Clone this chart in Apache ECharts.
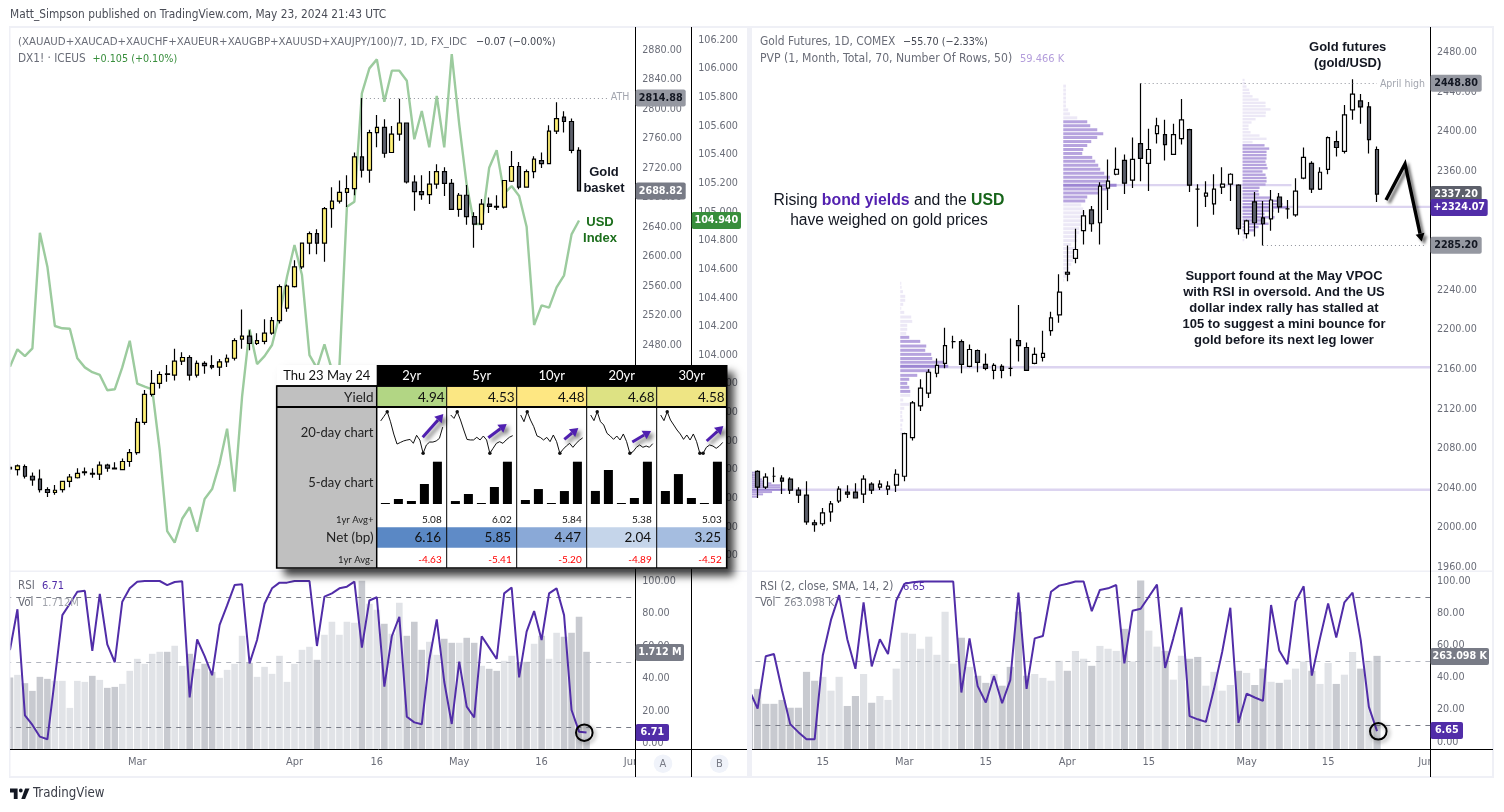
<!DOCTYPE html>
<html><head><meta charset="utf-8">
<style>html,body{margin:0;padding:0;background:#fff}#c{width:1504px;height:812px}</style>
<script src="https://cdn.jsdelivr.net/npm/echarts@6/dist/echarts.min.js"></script>
</head><body><div id="c"></div>
<script>
// ---------- categories ----------
const leftDates=['Feb 7','Feb 8','Feb 9','Feb 12','Feb 13','Feb 14','Feb 15','Feb 16','Feb 19','Feb 20','Feb 21','Feb 22','Feb 23','Feb 26','Feb 27','Feb 28','Feb 29','Mar 1','Mar 4','Mar 5','Mar 6','Mar 7','Mar 8','Mar 11','Mar 12','Mar 13','Mar 14','Mar 15','Mar 18','Mar 19','Mar 20','Mar 21','Mar 22','Mar 25','Mar 26','Mar 27','Mar 28','Mar 29','Apr 1','Apr 2','Apr 3','Apr 4','Apr 5','Apr 8','Apr 9','Apr 10','Apr 11','Apr 12','Apr 15','Apr 16','Apr 17','Apr 18','Apr 19','Apr 22','Apr 23','Apr 24','Apr 25','Apr 26','Apr 29','Apr 30','May 1','May 2','May 3','May 6','May 7','May 8','May 9','May 10','May 13','May 14','May 15','May 16','May 17','May 20','May 21','May 22','May 23','May 24','May 27','May 28','May 29','May 30','May 31','Jun 3'];
const rightDates=['Feb 2','Feb 5','Feb 6','Feb 7','Feb 8','Feb 9','Feb 12','Feb 13','Feb 14','Feb 15','Feb 16','Feb 20','Feb 21','Feb 22','Feb 23','Feb 26','Feb 27','Feb 28','Feb 29','Mar 1','Mar 4','Mar 5','Mar 6','Mar 7','Mar 8','Mar 11','Mar 12','Mar 13','Mar 14','Mar 15','Mar 18','Mar 19','Mar 20','Mar 21','Mar 22','Mar 25','Mar 26','Mar 27','Mar 28','Apr 1','Apr 2','Apr 3','Apr 4','Apr 5','Apr 8','Apr 9','Apr 10','Apr 11','Apr 12','Apr 15','Apr 16','Apr 17','Apr 18','Apr 19','Apr 22','Apr 23','Apr 24','Apr 25','Apr 26','Apr 29','Apr 30','May 1','May 2','May 3','May 6','May 7','May 8','May 9','May 10','May 13','May 14','May 15','May 16','May 17','May 20','May 21','May 22','May 23','May 24','May 28','May 29','May 30','May 31','Jun 3'];
const leftTimeLabels={'Mar 1':'Mar','Apr 1':'Apr','Apr 16':'16','May 1':'May','May 16':'16','Jun 3':'Jun'};
const rightTimeLabels={'Feb 15':'15','Mar 1':'Mar','Mar 15':'15','Apr 1':'Apr','Apr 15':'15','May 1':'May','May 15':'15','Jun 3':'Jun'};

// ---------- tick labels ----------
const basketTicks=[2200,2240,2280,2320,2360,2400,2440,2480,2520,2560,2600,2640,2680,2720,2760,2800,2840,2880];
const dxyTicks=[102.6,102.8,103,103.2,103.4,103.6,103.8,104,104.2,104.4,104.6,104.8,105,105.2,105.4,105.6,105.8,106,106.2];
const rsiTicks=[0,20,40,60,80,100];
const futuresTicks=[1960,2000,2040,2080,2120,2160,2200,2240,2280,2320,2360,2400,2440,2480];

// ---------- gold basket: [open, close, low, high] ----------
const basketOHLC=[[2314,2312,2305,2319],[2311,2316,2303,2318],[2315,2302,2299,2318],[2302,2297,2289,2307],[2298,2284,2280,2311],[2284,2280,2274,2287],[2280,2283,2277,2290],[2284,2295,2280,2296],[2295,2301,2287,2305],[2300,2306,2299,2313],[2307,2308,2303,2314],[2306,2305,2300,2313],[2305,2317,2297,2322],[2317,2313,2308,2319],[2312,2313,2311,2321],[2311,2322,2310,2326],[2322,2334,2315,2339],[2334,2375,2331,2381],[2375,2413,2372,2419],[2413,2428,2410,2446],[2428,2440,2421,2444],[2440,2441,2430,2453],[2439,2458,2432,2475],[2458,2463,2453,2470],[2463,2439,2432,2466],[2439,2455,2436,2459],[2455,2452,2441,2458],[2452,2450,2447,2466],[2450,2457,2438,2461],[2457,2462,2450,2467],[2462,2486,2459,2489],[2488,2492,2475,2528],[2492,2482,2473,2500],[2482,2486,2480,2496],[2485,2496,2481,2515],[2496,2513,2494,2518],[2513,2559,2509,2562],[2530,2560,2525,2562],[2559,2586,2558,2595],[2586,2618,2583,2619],[2618,2631,2603,2634],[2631,2618,2603,2637],[2618,2665,2593,2667],[2665,2675,2639,2694],[2675,2687,2672,2703],[2687,2692,2667,2710],[2692,2735,2683,2741],[2735,2717,2707,2815],[2717,2768,2700,2772],[2768,2775,2748,2792],[2775,2740,2734,2786],[2741,2766,2741,2777],[2766,2781,2757,2814],[2781,2701,2699,2781],[2701,2688,2662,2710],[2688,2684,2677,2710],[2684,2698,2671,2716],[2698,2715,2692,2725],[2715,2699,2682,2721],[2699,2664,2663,2705],[2664,2683,2654,2686],[2683,2654,2643,2697],[2654,2644,2612,2660],[2644,2671,2636,2678],[2671,2668,2659,2680],[2668,2667,2663,2683],[2667,2703,2665,2703],[2702,2722,2701,2743],[2722,2694,2691,2728],[2694,2715,2694,2718],[2715,2732,2706,2736],[2730,2726,2720,2741],[2726,2770,2726,2778],[2770,2787,2766,2809],[2789,2783,2768,2797],[2783,2744,2740,2787],[2744,2689,2689,2748]];
const dxyClose=[103.919,104.04,103.993,104.047,104.854,104.617,104.203,104.187,104.184,103.977,103.914,103.88,103.861,103.754,103.761,103.914,104.1,103.8,103.779,103.761,103.337,102.771,102.69,102.857,102.937,102.766,102.995,103.064,103.244,103.486,103.046,103.709,104.18,103.937,103.993,104.07,104.28,104.547,104.768,104.559,104,103.909,104.075,103.896,103.919,105.036,105.071,105.828,106.002,106.065,105.769,105.986,105.986,105.916,105.507,105.704,105.451,105.809,105.451,106.102,105.611,105.187,104.915,104.915,105.308,105.43,105.129,105.18,105.111,104.896,104.21,104.347,104.331,104.473,104.557,104.843,104.94];
const basketRSI=[57.5,82.6,17.3,11.4,4.2,2.6,40,79,86,93.4,94,57,92,61,50,87.3,95.5,99.6,100,100,100,97.5,99.4,99.8,28.4,64,53.8,42,73,85,97.5,98,49.3,63.7,86,95.5,99,99,100,100,100,60,90.4,92.4,95.5,96.5,99.6,59,88,90,35,66,78,16.5,13,11.8,51.4,76.4,38,12,50.4,22.7,16,66,59,52,92.4,96,40.7,68.8,81.5,63.7,92.4,95.5,79,20.6,7.3,6.71];
const basketVol=[1261,1307,1161,1026,1272,1237,1202,1202,727,1202,1184,1290,1219,1079,1096,1149,1378,1589,1501,1677,1712,1712,1818,1466,1677,1413,1501,1360,1255,1395,1501,1993,1519,1272,1448,1325,1642,1184,1501,1747,1800,1571,2011,2240,2011,2240,2222,2961,2556,2451,2204,2029,2574,1993,2240,1747,1888,1659,1941,1870,1870,1958,1870,1466,1413,1378,1554,1642,1519,1536,1853,1993,1589,2046,1976,2046,2328,1712];
const basketVolUp=[0,1,0,0,0,0,1,1,1,1,1,0,1,0,0,1,1,1,1,1,1,0,1,1,0,1,0,0,1,1,1,1,0,1,1,1,1,1,1,1,1,0,1,1,1,1,1,0,1,1,0,1,1,0,0,0,1,1,0,0,1,0,0,1,0,0,1,1,0,0,1,0,1,1,0,0,0,0];

// ---------- gold futures ----------
const futuresOHLC=[[2050,2056,2045,2060],[2057,2041,2030,2058],[2041,2051,2039,2055],[2052,2052,2046,2061],[2050,2047,2034,2053],[2049,2038,2034,2051],[2038,2033,2025,2041],[2033,2006,2003,2047],[2005,2003,1996,2008],[2004,2015,2002,2020],[2016,2024,2006,2027],[2027,2039,2025,2042],[2036,2034,2030,2043],[2036,2030,2030,2045],[2034,2049,2025,2053],[2044,2038,2034,2046],[2041,2044,2038,2048],[2039,2042,2033,2047],[2043,2054,2036,2059],[2052,2095,2047,2096],[2091,2126,2088,2128],[2123,2141,2118,2150],[2136,2157,2131,2160],[2156,2164,2152,2171],[2166,2184,2161,2202],[2188,2188,2181,2194],[2188,2165,2156,2190],[2163,2180,2162,2185],[2179,2167,2157,2180],[2165,2161,2159,2176],[2159,2164,2150,2166],[2163,2159,2151,2165],[2161,2161,2153,2191],[2189,2184,2168,2225],[2182,2159,2159,2187],[2166,2175,2165,2182],[2172,2176,2168,2199],[2199,2212,2194,2218],[2215,2238,2207,2256],[2258,2256,2249,2285],[2272,2281,2267,2302],[2300,2315,2286,2321],[2321,2307,2299,2325],[2308,2345,2286,2349],[2343,2350,2321,2372],[2357,2362,2356,2384],[2371,2348,2337,2377],[2351,2372,2343,2394],[2388,2373,2350,2449],[2368,2382,2340,2403],[2398,2406,2388,2414],[2397,2387,2371,2412],[2377,2397,2377,2408],[2393,2412,2387,2433],[2402,2346,2339,2403],[2342,2342,2304,2347],[2335,2338,2324,2350],[2327,2342,2316,2357],[2344,2347,2337,2364],[2347,2357,2330,2358],[2346,2302,2296,2347],[2297,2310,2292,2311],[2329,2308,2294,2339],[2313,2307,2285,2330],[2312,2331,2300,2341],[2334,2324,2318,2338],[2322,2322,2312,2331],[2316,2340,2314,2353],[2353,2374,2352,2384],[2368,2342,2338,2370],[2342,2359,2341,2364],[2362,2394,2357,2395],[2390,2384,2375,2401],[2380,2417,2378,2427],[2422,2438,2412,2453],[2431,2425,2408,2438],[2425,2392,2378,2430],[2382,2337,2329,2385]];
const futuresRSI=[32,20.7,53.4,54.7,32,11,6,1.6,1.6,54,76,91.5,64,45.5,87,47,64,54.7,88,98.5,99.5,100,100,100,100,100,30.7,64.5,34.7,24.5,41,24,38.4,93,33,64.5,66,93.6,97.4,98.6,100,100,81.5,94.7,95.7,97.8,48.9,81.7,83,90.5,98,46,64.5,83.8,16,14,12.4,33,56,83.6,11.8,30,27.6,25.5,85.3,57,48.4,87.4,97,41.3,64.5,86.3,65,87,93,63.4,21.8,6.65];
const futuresVol=[150,170,128,128,139,117,117,218,193,204,165,204,122,150,212,131,150,139,227,328,325,283,317,266,387,241,314,232,207,187,212,179,232,387,207,212,201,193,249,221,277,255,235,291,283,277,339,247,475,334,289,277,196,263,255,260,179,218,165,181,221,215,181,227,190,187,196,227,247,221,184,243,184,210,274,227,249,263];
const futuresVolUp=[0,0,0,0,0,0,0,0,0,1,1,1,0,0,1,0,1,1,1,1,1,1,1,1,1,1,0,1,0,0,1,0,0,0,0,1,1,1,1,0,1,1,0,1,1,1,0,1,0,1,1,0,1,1,0,0,1,1,1,1,0,1,0,0,1,0,1,1,1,0,1,1,0,1,1,0,1,0];

// ---------- periodic volume profile (row price + relative row volume) ----------
const febRowPrices=[2055.6,2053.2,2050.9,2048.8,2046.8,2044.8,2042.8,2040.8,2038.4,2036,2033.7,2031.3];
const febRowVols=[33,34,38,50,60,78,105,105,120,80,53,35];
const marRowPrices=[2246.8,2242.8,2238.4,2233.7,2229.7,2225.6,2221.6,2217.5,2212.8,2208.4,2204.4,2200.4,2196.3,2192.3,2188.2,2183.5,2179.2,2175.1,2171,2167,2163,2158.6,2153.9,2149.9,2145.8,2141.8,2137.7,2133.7,2129,2124.6,2120.6,2116.5,2112.5,2108.5,2103.7,2099.4,2095.3];
const marRowVols=[3,4,8,15,15,9,3,12,33,36,21,21,18,27,60,78,75,93,96,130,144,90,51,27,21,27,30,30,9,27,12,6,6,9,6,6,9];
const aprRowPrices=[2446,2442,2438,2434,2430,2426,2422,2418,2414,2410,2406,2402,2398,2394,2390,2386,2382,2378,2374,2370,2366,2362,2358,2354,2350,2346,2342,2338,2334,2330,2326,2322,2318,2314,2310,2306,2302,2298,2294,2290,2286,2282,2278,2274,2270,2266,2262,2258,2254,2250];
const aprRowVols=[8,8,8,8,8,8,15,20,42,72,81,102,120,102,84,72,60,57,87,96,105,111,123,140,138,160,135,105,72,66,54,60,66,60,66,54,48,48,42,42,24,36,33,30,30,24,18,18,9,3];
const mayRowPrices=[2452.2,2448.9,2445.6,2442.3,2439,2435.7,2432.4,2429.1,2425.8,2422.5,2419.2,2415.9,2412.6,2409.3,2406,2402.7,2399.4,2396.1,2392.8,2389.5,2386.2,2382.9,2379.6,2376.3,2373,2369.7,2366.4,2363.1,2359.8,2356.5,2353.2,2349.9,2346.6,2343.3,2340,2336.7,2333.4,2330.1,2326.8,2323.5,2320.2,2316.9,2313.6,2310.3,2307,2303.7,2300.4,2297.1,2293.8,2290.5];
const mayRowVols=[6,8,12,20,22,30,48,69,69,84,70,69,39,27,18,18,24,51,72,30,66,80,72,72,72,69,72,75,60,69,72,72,69,51,48,50,84,105,120,135,93,66,96,63,78,48,36,12,8,5];
// first bar, POC end bar, POC price, value-area high, value-area low
const febProfileMeta=['Feb 2','Jun 3',2038.4,2060,2030];
const marProfileMeta=['Mar 1','Jun 3',2162,2192.4,2137.5];
const aprProfileMeta=['Apr 1','May 8',2346,2410.5,2329.5];
const mayProfileMeta=['May 1','Jun 3',2324.07,2386.3,2300.3];

// ---------- US yields table ----------
const tenors=['2yr','5yr','10yr','20yr','30yr'];
const yieldsNow=['4.94','4.53','4.48','4.68','4.58'];
const avgPlus=['5.08','6.02','5.84','5.38','5.03'];
const netBp=['6.16','5.85','4.47','2.04','3.25'];
const avgMinus=['-4.63','-5.41','-5.20','-4.89','-4.52'];
const yield20d=[
 [4.98,5.01,5.04,4.975,4.895,4.83,4.84,4.85,4.856,4.86,4.835,4.887,4.856,4.77,4.824,4.843,4.843,4.85,4.867,4.94],
 [4.694,4.667,4.72,4.654,4.575,4.50,4.496,4.496,4.517,4.496,4.527,4.496,4.39,4.43,4.469,4.482,4.469,4.496,4.517,4.53],
 [4.672,4.616,4.70,4.63,4.574,4.496,4.484,4.462,4.484,4.448,4.504,4.448,4.35,4.384,4.412,4.434,4.40,4.434,4.46,4.48],
 [4.904,4.86,4.93,4.852,4.826,4.761,4.74,4.714,4.74,4.709,4.756,4.696,4.605,4.618,4.652,4.67,4.652,4.662,4.652,4.68],
 [4.794,4.75,4.82,4.755,4.716,4.677,4.646,4.604,4.638,4.599,4.646,4.586,4.495,4.495,4.542,4.56,4.552,4.534,4.552,4.58]];
const change5d=[[0.1,0.73,0.44,2.91,6.16],[0.41,1.38,0.09,2.35,5.85],[0.42,1.58,0.07,1.37,4.47],[0.63,1.64,0.03,0.29,2.04],[1.0,2.3,0.46,0.05,3.25]];

// ---------- styles & layout ----------
const TV="'DejaVu Sans Condensed','DejaVu Sans',sans-serif", AR="'Liberation Sans',Arial,sans-serif", XL="Lato,'Open Sans',sans-serif";
const AXC='#6a6d78', PUR='#512da8', GRN='#388e3c', INK='#131722', STRIP='#eff0f6';
const yieldFill=['#b2d684','#fbe783','#fee782','#dde283','#eee584'], netFill=['#5a88c5','#5f8bc7','#8aa9d7','#c5d5ea','#a5bde0'];
const L={x:6.2,w:629},R={x:745.4,w:684.6},TOP=28,PH=542,RT=572,RH=177.3;

const chart=echarts.init(document.getElementById('c'),null,{renderer:'canvas'});
const yA=(min,max,ticks,fmt,extra)=>Object.assign({type:'value',position:'right',min,max,scale:true,
  axisLine:{show:false},axisTick:{show:false},splitLine:{show:false},
  axisLabel:{customValues:ticks,formatter:fmt,color:AXC,fontFamily:TV,fontSize:10.7,margin:7}},extra||{});
const xA=(cat,grid,labels)=>({type:'category',gridIndex:grid,data:cat,boundaryGap:true,
  show:!!labels,axisLine:{show:false},axisTick:{show:false},splitLine:{show:false},
  axisLabel:labels?{interval:(i,v)=>v in labels,formatter:v=>labels[v]||'',color:AXC,fontFamily:TV,fontSize:11,margin:7.5,hideOverlap:false}:{show:false}});
const f2=v=>v.toFixed(2), f3=v=>v.toFixed(3);

const grids=[{left:L.x,top:TOP,width:L.w,height:PH},{left:L.x,top:RT,width:L.w,height:RH},{left:R.x,top:TOP,width:R.w,height:PH},{left:R.x,top:RT,width:R.w,height:RH}];
const xAxes=[xA(leftDates,0),xA(leftDates,1,leftTimeLabels),xA(rightDates,2),xA(rightDates,3,rightTimeLabels)];
const yAxes=[
 yA(2174.9,2909.8,basketTicks,f2,{gridIndex:0}),
 yA(102.499,106.284,dxyTicks,f3,{gridIndex:0,offset:56}),
 yA(-3.57,105.54,rsiTicks,f2,{gridIndex:1}),
 {type:'value',gridIndex:1,show:false,min:0,max:3113},
 yA(1957.3,2504.7,futuresTicks,f2,{gridIndex:2}),
 yA(-4.7,105.9,rsiTicks,f2,{gridIndex:3}),
 {type:'value',gridIndex:3,show:false,min:0,max:499}];

const candle=(data,x,y,up,dot)=>({type:'candlestick',xAxisIndex:x,yAxisIndex:y,data,barWidth:4.2,z:4,silent:true,
  itemStyle:{color:up,color0:'#5d606b',borderColor:'#000',borderColor0:'#000',borderColorDoji:'#000',borderWidth:1.2},
  markLine:{silent:true,symbol:'none',animation:false,label:{show:false},lineStyle:{color:'#8f929b',type:[1,3],width:1},data:dot}});
const volBars=(vals,ups,x,y)=>({type:'bar',xAxisIndex:x,yAxisIndex:y,barWidth:'88%',z:2,silent:true,
  data:vals.map((v,i)=>({value:v,itemStyle:{color:ups[i]?'#e1e3e7':'#c8cad0'}}))});
const rsiLine=(vals,x,y)=>({type:'line',xAxisIndex:x,yAxisIndex:y,data:vals,showSymbol:false,z:5,silent:true,
  lineStyle:{color:PUR,width:2},itemStyle:{color:PUR},
  markLine:{silent:true,symbol:'none',animation:false,label:{show:false},
   data:[{yAxis:90,lineStyle:{color:'#787b86',type:[5,5],width:1}},{yAxis:50,lineStyle:{color:'#b2b5be',type:[5,5],width:1}},{yAxis:10,lineStyle:{color:'#787b86',type:[5,5],width:1}}]}});

// volume-profile rows + POC lines
const idx=n=>rightDates.indexOf(n);
const profiles=[[febRowPrices,febRowVols,febProfileMeta,2],[marRowPrices,marRowVols,marProfileMeta,3],[aprRowPrices,aprRowVols,aprProfileMeta,3],[mayRowPrices,mayRowVols,mayProfileMeta,2.4]];
const rowData=[],pocData=[];
profiles.forEach(([ps,vs,m,h])=>{
  const mx=Math.max(...vs);
  ps.forEach((p,i)=>rowData.push([idx(m[0]),p,vs[i],vs[i]===mx?2:(p<=m[3]&&p>=m[4]?1:0),h]));
  pocData.push([idx(m[0]),m[2],idx(m[1])]);
});
const ROWS_PER_BAR=24.45;
const rowSeries={type:'custom',xAxisIndex:2,yAxisIndex:4,z:2,silent:true,data:rowData,encode:{x:0,y:1},
  renderItem:(p,api)=>{const c=api.coord([api.value(0),api.value(1)]);const b=api.size([1,0])[0];
    const k=api.value(3),h=api.value(4);
    return {type:'rect',shape:{x:c[0]-b/2,y:c[1]-h/2,width:api.value(2)/ROWS_PER_BAR*b,height:h},
      style:{fill:k===2?'#9d86d3':(k===1?'#b6a3de':'#ece8f6')}};}};
const pocSeries={type:'custom',xAxisIndex:2,yAxisIndex:4,z:1,silent:true,data:pocData,encode:{x:0,y:1},
  renderItem:(p,api)=>{const a=api.coord([api.value(0),api.value(1)]),e=api.coord([api.value(2),api.value(1)]);const b=api.size([1,0])[0];
    return {type:'rect',shape:{x:a[0]-b/2,y:a[1]-1.2,width:e[0]-a[0]+b,height:2.4},style:{fill:'#dcd4f0'}};}};

const series=[
 {type:'line',xAxisIndex:0,yAxisIndex:1,data:dxyClose,showSymbol:false,z:2,silent:true,lineStyle:{color:'#9ccb9e',width:2.4},itemStyle:{color:'#9ccb9e'}},
 candle(basketOHLC,0,0,'#fff176',[[{coord:['Apr 12',2814.88]},{coord:['May 29',2814.88]}]]),
 volBars(basketVol,basketVolUp,1,3),
 rsiLine(basketRSI,1,2),
 pocSeries,rowSeries,
 candle(futuresOHLC,2,4,'#ffffff',[[{coord:['Apr 12',2448.8]},{coord:['May 23',2448.8]}],[{coord:['May 3',2285.2]},{coord:['Jun 3',2285.2]}]]),
 volBars(futuresVol,futuresVolUp,3,6),
 rsiLine(futuresRSI,3,5)
];

// table mini charts
const COLX=c=>376.7+70*c;
tenors.forEach((t,c)=>{
  const g=grids.length, d=yield20d[c], mx=Math.max(...d), mn=Math.min(...d);
  grids.push({left:COLX(c)+4,top:411.7,width:62,height:41.6});
  xAxes.push({type:'category',gridIndex:g,show:false,boundaryGap:false,data:d.map((_,i)=>i+1)});
  yAxes.push({type:'value',gridIndex:g,show:false,min:mn,max:mx});
  series.push({type:'line',xAxisIndex:xAxes.length-1,yAxisIndex:yAxes.length-1,data:d,z:45,silent:true,clip:false,
    symbol:'circle',showAllSymbol:true,symbolSize:v=>(v===mx||v===mn)?3.5:0,lineStyle:{color:'#111',width:1},itemStyle:{color:'#111'}});
  const g2=grids.length, b=change5d[c];
  grids.push({left:COLX(c)+2.2,top:461.7,width:65,height:42.3});
  xAxes.push({type:'category',gridIndex:g2,show:false,data:b.map((_,i)=>i+1)});
  yAxes.push({type:'value',gridIndex:g2,show:false,min:0,max:Math.max(...b)});
  series.push({type:'bar',xAxisIndex:xAxes.length-1,yAxisIndex:yAxes.length-1,data:b,barWidth:9,barMinHeight:1,z:45,silent:true,itemStyle:{color:'#000'}});
});

chart.setOption({animation:false,backgroundColor:'#fff',grid:grids,xAxis:xAxes,yAxis:yAxes,series});

// ---------- annotation layer ----------
const G=[];
const rect=(x,y,w,h,fill,z,extra)=>G.push({type:'rect',silent:true,z,shape:{x,y,width:w,height:h},style:Object.assign({fill},extra||{})});
const ln=(x1,y1,x2,y2,c,w,z)=>G.push({type:'line',silent:true,z,shape:{x1,y1,x2,y2},style:{stroke:c,lineWidth:w}});
const txt=(x,y,s,o)=>{o=o||{};G.push({type:'text',silent:true,z:o.z||20,style:Object.assign({x,y,text:s,fill:o.fill||AXC,fontFamily:o.ff||TV,fontSize:o.fs||11,fontWeight:o.fw||'normal',
  align:o.al||'left',textAlign:o.al||'left',verticalAlign:'middle',textVerticalAlign:'middle'},o.rich?{rich:o.rich}:{})});};
const arrow=(pts,c,w,hl,hw,z,shadow)=>{
  const n=pts.length,[ax,ay]=pts[n-2],[bx,by]=pts[n-1];const d=Math.hypot(bx-ax,by-ay),ux=(bx-ax)/d,uy=(by-ay)/d;
  const sx=bx-ux*hl,sy=by-uy*hl;const line=pts.slice(0,-1).concat([[sx,sy]]);
  const sh=shadow?{shadowBlur:shadow,shadowColor:'rgba(0,0,0,.55)',shadowOffsetX:3,shadowOffsetY:3}:{};
  G.push({type:'polyline',silent:true,z,shape:{points:line},style:Object.assign({stroke:c,lineWidth:w,fill:null},sh)});
  G.push({type:'polygon',silent:true,z,shape:{points:[[bx,by],[sx-uy*hw,sy+ux*hw],[sx+uy*hw,sy-ux*hw]]},style:Object.assign({fill:c},sh)});
};
const yOf=(ax,v)=>chart.convertToPixel({yAxisIndex:ax},v);
const badge=(x0,x1,y,s,fill,col,fw)=>{rect(x0,y-8.5,x1-x0,17,fill,30,{});G[G.length-1].shape.r=2;txt((x0+x1)/2,y,s,{fill:col,fw:fw||'bold',al:'center',z:31,fs:10.7});};

// covers and frame
rect(0,0,9,812,'#fff',10); rect(636,750,55,27,'#fff',10); rect(692,750,55,27,'#fff',10); rect(1431,750,62,27,'#fff',10);
rect(747,27,5,750,STRIP,11); rect(745,27,2,750,'#fff',10);
rect(9,26,1484,2,STRIP,11); rect(9,776,1484,2,STRIP,11); rect(9,27,1.5,750,STRIP,11); rect(1492,26,2,752,STRIP,11);
rect(10,570.5,737,1.5,STRIP,11); rect(752,570.5,741,1.5,STRIP,11);
ln(635.5,27,635.5,777,'#000',1,12); ln(691.5,27,691.5,777,'#000',1,12); ln(1430.5,27,1430.5,777,'#000',1,12);
ln(10,749.5,747,749.5,'#000',1,12); ln(752,749.5,1493,749.5,'#000',1,12);

// header / footer
txt(10,15,'Matt_Simpson published on TradingView.com, May 23, 2024 21:43 UTC',{fill:'#4a4d57',fs:11.8});
G.push({type:'polygon',silent:true,z:20,shape:{points:[[10,788.5],[17.6,788.5],[17.6,799],[13.8,799],[13.8,792.4],[10,792.4]]},style:{fill:INK}});
G.push({type:'polygon',silent:true,z:20,shape:{points:[[21.3,799],[25.1,799],[29.5,788.5],[25.1,788.5]]},style:{fill:INK}});
G.push({type:'circle',silent:true,z:20,shape:{cx:20.8,cy:790.5,r:1.9},style:{fill:INK}});
txt(33,794,'TradingView',{fill:'#3a3d47',fs:13.2});

// legends
txt(18,42,'(XAUAUD+XAUCAD+XAUCHF+XAUEUR+XAUGBP+XAUUSD+XAUJPY/100)/7, 1D, FX_IDC',{fs:11.33});
txt(476,42,'−0.07 (−0.00%)',{fill:'#434651',fs:10.8});
txt(18,59,'DX1! · ICEUS',{fs:11.7}); txt(92.5,59,'+0.105 (+0.10%)',{fill:GRN,fs:10.7});
txt(18,586,'RSI',{fs:11.5}); txt(42,586,'6.71',{fill:PUR});
txt(18,603,'Vol',{fs:11.5}); txt(42,603,'1.712M',{fill:'#a0a3ab'});
txt(760,42,'Gold Futures, 1D, COMEX',{fs:11.9}); txt(903,42,'−55.70 (−2.33%)',{fill:'#434651',fs:10.7});
txt(760,59,'PVP (1, Month, Total, 70, Number Of Rows, 50)',{fs:12.1}); txt(1020,59,'59.466 K',{fill:'#b39ddb'});
txt(760,587,'RSI (2, close, SMA, 14, 2)',{fs:11.8}); txt(903,587,'6.65',{fill:PUR});
txt(760,603,'Vol',{fs:11.5}); txt(784,603,'263.098 K',{fill:'#868993'});
txt(620,97.7,'ATH',{fill:'#a3a6af',al:'center',fs:10.5});
txt(1402.5,84.5,'April high',{fill:'#a3a6af',al:'center',fs:10.5});

// text notes
const NB={fill:INK,ff:AR,fs:13,fw:'bold',al:'center'};
txt(604,172.7,'Gold',NB); txt(604,188.3,'basket',NB);
const NG=Object.assign({},NB,{fill:'#1c6e1c'});
txt(600,222,'USD',NG); txt(600,238,'Index',NG);
txt(1347.7,47,'Gold futures',NB); txt(1347.7,63,'(gold/USD)',NB);
txt(889,201,'Rising {b|bond yields} and the {g|USD}',{fill:INK,ff:AR,fs:15.8,al:'center',rich:{b:{fill:'#5321b0',fontFamily:AR,fontSize:15.8,fontWeight:'bold'},g:{fill:'#17651a',fontFamily:AR,fontSize:15.8,fontWeight:'bold'}}});
txt(889,220.7,'have weighed on gold prices',{fill:INK,ff:AR,fs:15.6,al:'center'});
['Support found at the May VPOC','with RSI in oversold. And the US','dollar index rally has stalled at','105 to suggest a mini bounce for','gold before its next leg lower'].forEach((s,i)=>txt(1284,276.3+16*i,s,NB));

arrow([[1386,200],[1405,164],[1421.7,241.5]],'#000',3.4,8,4.5,22,3);

// circles at the last RSI
[[584.3,732.7],[1378.3,731.3]].forEach(([x,y])=>G.push({type:'circle',silent:true,z:22,shape:{cx:x,cy:y,r:8.3},style:{fill:null,stroke:'#000',lineWidth:2,shadowBlur:4,shadowColor:'rgba(0,0,0,.4)',shadowOffsetX:2,shadowOffsetY:2}}));

// scale buttons
[[663,'A'],[719.3,'B']].forEach(([x,s])=>{G.push({type:'circle',silent:true,z:13,shape:{cx:x,cy:763.7,r:9.3},style:{fill:'#f0f3fa'}});txt(x,764,s,{al:'center',fill:'#787b86',z:14,fs:11});});

// price badges
badge(635.7,685.7,yOf(0,2814.88),'2814.88','#9598a1',INK);
badge(635.7,685.7,yOf(0,2688.82),'2688.82','#787b86','#fff');
badge(691.7,741,yOf(1,104.94),'104.940',GRN,'#fff');
badge(635.7,684,652.5,'1.712 M','#787b86','#fff');
badge(635.7,669,732.5,'6.71',PUR,'#fff');
badge(1430.5,1481.7,yOf(4,2448.8),'2448.80','#9598a1',INK);
badge(1430.5,1481.7,yOf(4,2337.2)+0.6,'2337.20','#5d606b','#fff');
badge(1430.5,1487.7,yOf(4,2324.07)+0.6,'+2324.07',PUR,'#fff');
badge(1430.5,1481.7,yOf(4,2285.2),'2285.20','#9598a1',INK);
badge(1430.5,1489,656.5,'263.098 K','#787b86','#fff');
badge(1430.5,1463,730.5,'6.65',PUR,'#fff');

// ---------- yields table ----------
const Z=40, TX=276.7, TXR=726.7;
rect(TX,365,TXR-TX,203.5,'#fff',Z,{shadowBlur:8,shadowColor:'rgba(0,0,0,.75)',shadowOffsetX:7,shadowOffsetY:7});
rect(376.7,365,TXR-376.7,21,'#000',Z+1);
rect(TX,386,100,182,'#c0c0c0',Z+1);
tenors.forEach((t,c)=>{
  rect(COLX(c),387,70,20,yieldFill[c],Z+1);
  rect(COLX(c),527.3,70,20.4,netFill[c],Z+1);
  txt(COLX(c)+35,376,t,{fill:'#fff',ff:XL,fs:13,al:'center',z:Z+3});
  txt(COLX(c)+68,397.3,yieldsNow[c],{fill:'#111',ff:XL,fs:13.5,al:'right',z:Z+3});
  txt(COLX(c)+65,520,avgPlus[c],{fill:'#111',ff:XL,fs:10,al:'right',z:Z+3});
  txt(COLX(c)+64.5,538,netBp[c],{fill:'#111',ff:XL,fs:13.5,al:'right',z:Z+3});
  txt(COLX(c)+65,560,avgMinus[c],{fill:'#f00',ff:XL,fs:10,al:'right',z:Z+3});
  if(c) ln(COLX(c),386,COLX(c),568,'#000',1,Z+2);
});
txt(326.7,376,'Thu 23 May 24',{fill:'#111',ff:XL,fs:13,al:'center',z:Z+3});
[['Yield',397.3,13.5],['20-day chart',433.3,13],['5-day chart',483,13],['1yr Avg+',520,9.5],['Net (bp)',538,13.5],['1yr Avg-',560,9.5]].forEach(([s,y,fs])=>txt(373.5,y,s,{fill:'#222',ff:XL,fs,al:'right',z:Z+3}));
ln(TX,386,TXR,386,'#000',1.5,Z+2); ln(TX,407,TXR,407,'#000',2,Z+2); ln(376.7,386,376.7,568,'#000',1.5,Z+2);
G.push({type:'rect',silent:true,z:Z+2,shape:{x:TX,y:386,width:TXR-TX,height:182},style:{fill:null,stroke:'#000',lineWidth:1.6}});
G.push({type:'line',silent:true,z:Z+2,shape:{x1:TXR,y1:365,x2:TXR,y2:386},style:{stroke:'#000',lineWidth:1.6}});
[[422.7,437.3,443.3,414],[488.3,437.7,506.7,424],[564.3,439.3,578.3,428],[632.3,442,651,431],[706.7,441,723.3,426]].forEach(a=>arrow([[a[0],a[1]],[a[2],a[3]]],'#4f1fb0',3,8,5,Z+8,4));

chart.setOption({graphic:{elements:G}});
</script></body></html>
